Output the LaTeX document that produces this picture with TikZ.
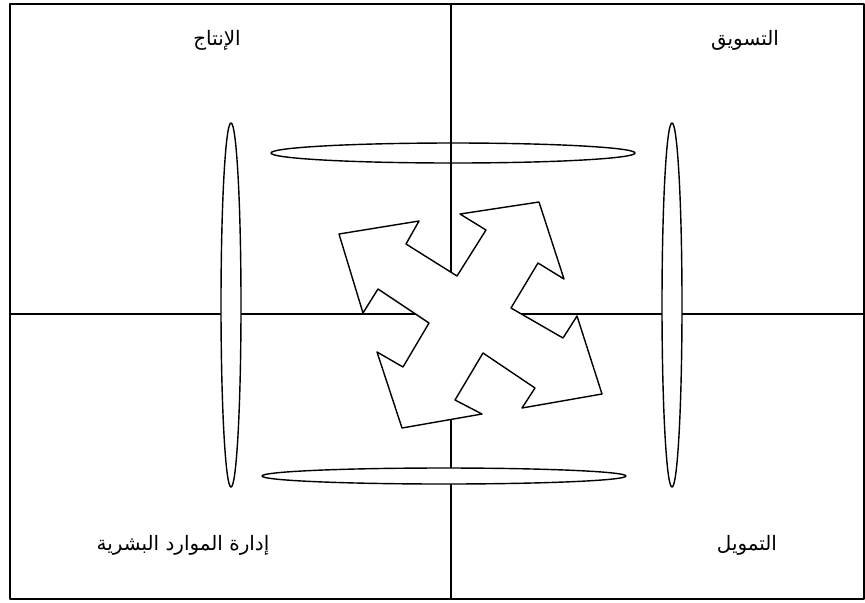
\documentclass[tikz,border=0pt]{standalone}
\usepackage{fontspec}
\newfontfamily\arabicfont[Script=Arabic]{DejaVu Sans}
\TeXXeTstate=1
\usetikzlibrary{positioning}

\begin{document}
\begin{tikzpicture}[
  x=0.03cm, y=-0.03cm,
  line join=round,
  frame/.style={draw, line width=1pt},
  lens/.style={draw, fill=white, line width=1.2pt},
  area/.style={font=\arabicfont\fontsize{17}{20}\selectfont, inner sep=2pt}]
  \useasboundingbox (0,0) rectangle (865,602);

  % quadrants
  \draw[frame] (10,4) rectangle (864,599);
  \draw[frame] (451,4) -- (451,599);
  \draw[frame] (10,314) -- (864,314);

  % labels
  \node[area] (prod) at (217,40)  {\beginR الإنتاج\endR};
  \node[area] (mkt)  at (745,40)  {\beginR التسويق\endR};
  \node[area] (hr)   at (183,545) {\beginR إدارة الموارد البشرية\endR};
  \node[area] (fin)  at (747,545) {\beginR التمويل\endR};

  % links between the functions
  \draw[lens, fill=none] (453,153) ellipse [x radius=182, y radius=10];
  \draw[lens] (444,476) ellipse [x radius=182, y radius=8];
  \draw[lens] (231,305) ellipse [x radius=10, y radius=182];
  \draw[lens] (672,305) ellipse [x radius=10, y radius=182];

  % four-way arrow
  \draw[lens] (339,234) -- (419,221) -- (406,244) -- (457,276)
    -- (486,230) -- (460,214) -- (539,202) -- (564,279)
    -- (538,263) -- (511,308) -- (563,338) -- (577,316)
    -- (602,394) -- (522,408) -- (535,388) -- (483,353)
    -- (455,400) -- (482,414) -- (402,428) -- (377,352)
    -- (403,367) -- (429,323) -- (378,289) -- (363,313) -- cycle;
\end{tikzpicture}
\end{document}
